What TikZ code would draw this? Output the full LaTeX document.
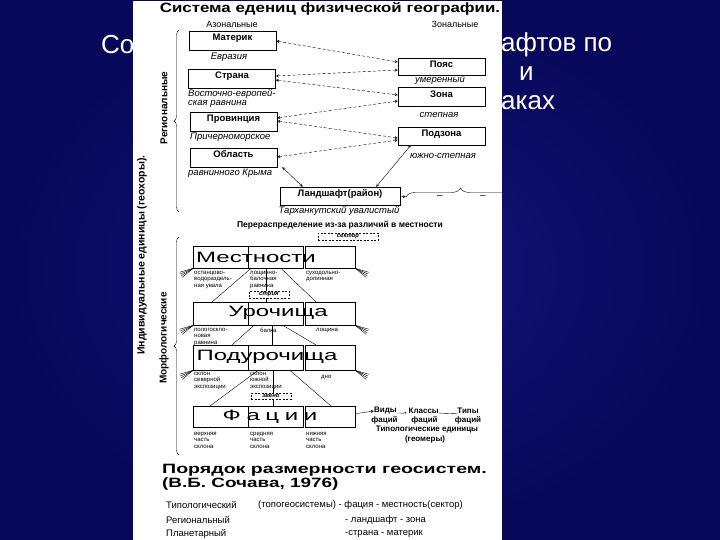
\documentclass[tikz,border=0pt]{standalone}
\usepackage{fontspec}
\setmainfont{Liberation Sans}
\usetikzlibrary{shapes,arrows,positioning,fit,decorations.pathreplacing}

\definecolor{slidenavy}{RGB}{20,20,124}
\definecolor{slidedeep}{RGB}{8,8,90}

\begin{document}
\begin{tikzpicture}[
    x=1pt, y=-1pt,
    box/.style={rectangle, draw, minimum width=87pt, minimum height=19pt, inner sep=1pt, text height=7pt, text depth=6pt, font=\fontsize{9.5}{10}\selectfont\bfseries},
    note/.style={inner sep=0pt, align=left, font=\fontsize{9.5}{9}\selectfont\itshape},
    cell/.style={rectangle, draw, anchor=north west, inner sep=0pt},
    big/.style={inner sep=0pt, font=\fontsize{15}{15}\selectfont},
    tiny/.style={anchor=north west, inner sep=0pt, align=left, font=\fontsize{6}{6.5}\selectfont},
    dashbox/.style={rectangle, draw, fill=white, dash pattern=on 2pt off 1.5pt, minimum width=40pt, minimum height=7pt, inner sep=0pt, font=\fontsize{6}{6}\selectfont\bfseries\itshape},
    side/.style={rotate=90, inner sep=0pt, font=\fontsize{10}{10}\selectfont\bfseries},
    lbl/.style={inner sep=0pt, font=\fontsize{8}{9}\selectfont\bfseries},
    row/.style={anchor=west, inner sep=0pt, font=\fontsize{9.5}{10}\selectfont},
    title/.style={anchor=west, inner sep=0pt, text=white, font=\fontsize{26}{26}\selectfont},
    link/.style={<->, >=stealth, dash pattern=on 3pt off 2pt, thin},
    arrow/.style={<->, >=stealth, thin},
    curly/.style={decorate, decoration={brace, amplitude=#1}, thin},
    fan/.style={thin}
]
\useasboundingbox (0,0) rectangle (720,540);
\shade[inner color=slidenavy, outer color=slidedeep] (0,0) rectangle (720,540);

% slide title behind the scan
\node[title] (ttlA) at (101,45) {Со};
\node[title] (ttlB) at (501,45) {афтов по};
\node[title] (ttlC) at (519,74) {и};
\node[title] (ttlD) at (501,103) {аках};

\fill[white] (133,1) rectangle (502,540);

\begin{scope}
\clip (133,1) rectangle (502,540);

\node[inner sep=0pt, font=\fontsize{13.5}{14}\selectfont\bfseries] (head) at (330,9) {\scalebox{1.25}[1]{Система едениц физической географии.}};
\node[inner sep=0pt, font=\fontsize{9}{9}\selectfont] (azonal) at (232,24) {Азональные};
\node[inner sep=0pt, font=\fontsize{9}{9}\selectfont] (zonal) at (455,24) {Зональные};

% regional units
\node[box] (materik) at (232.5,40.5) {Материк};
\node[box] (strana) at (232,78.5) {Страна};
\node[box] (provincia) at (233.5,121.5) {Провинция};
\node[box] (oblast) at (233.5,157.5) {Область};
\node[box, minimum height=17pt] (poyas) at (441.5,67) {Пояс};
\node[box] (zona) at (441.5,97) {Зона};
\node[box, minimum height=18pt] (podzona) at (441.5,136) {Подзона};
\node[box, minimum width=120pt, minimum height=18pt] (landshaft) at (340,196) {Ландшафт(район)};

\node[note] (evraziya) at (229,57) {Евразия};
\node[note, anchor=west] (vostochno) at (188,98.5) {Восточно-европей-\\ская равнина};
\node[note] (umeren) at (440,80) {умеренный};
\node[note] (stepnaya) at (439,115) {степная};
\node[note, anchor=west] (prichern) at (190,137) {Причерноморское};
\node[note] (yuzhno) at (443,156) {южно-степная};
\node[note, anchor=west] (ravnin) at (188,173) {равнинного Крыма};
\node[note] (tarkhan) at (339,211) {Тарханкутский увалистый};

\draw[link] ([yshift=-0.5pt]materik.east) -- ([yshift=5pt]poyas.west);
\draw[link] ([yshift=2.5pt]strana.east) -- ([yshift=-3pt]poyas.west);
\draw[link] ([yshift=-1.5pt]strana.east) -- ([yshift=2pt]zona.west);
\draw[link] ([yshift=3.5pt]provincia.east) -- ([yshift=-4pt]zona.west);
\draw[link] ([yshift=0.5pt]provincia.east) -- ([yshift=-2pt]podzona.west);
\draw[link] ([yshift=0.5pt]oblast.east) -- ([yshift=-4pt]podzona.west);
\draw[arrow] ([xshift=5pt]oblast.south east) -- ([xshift=23pt]landshaft.north west);
\draw[arrow] ([xshift=13pt]podzona.south west) -- ([xshift=-24pt]landshaft.north east);

\coordinate (brL) at (406,197);
\coordinate (brR) at (515,197);
\draw[->, >=stealth, thin] (landshaft.east) -- (brL);
\draw[curly=9pt] (brL) -- (brR);
\node[inner sep=0pt, font=\fontsize{10}{10}\selectfont] (dashA) at (440,197) {–};
\node[inner sep=0pt, font=\fontsize{10}{10}\selectfont] (dashB) at (483,197) {–};

% left side
\draw[curly=5pt] (179,212) -- (179,30);
\draw[curly=5pt] (179,455) -- (179,237);
\node[side] (regional) at (164,108) {Региональные};
\node[side, font=\fontsize{10.5}{10.5}\selectfont\bfseries] (individ) at (142,255) {Индивидуальные единицы (геохоры).};
\node[side] (morfolog) at (164,338) {Морфологические};

\node[lbl, font=\fontsize{8.5}{9}\selectfont\bfseries] (pereras) at (340,225) {Перераспределение из-за различий в местности};
\node[dashbox, minimum width=60pt] (sektor) at (348,236.5) {сектор};

% morphological units
\node[cell, minimum width=55pt, minimum height=22pt] (mest1) at (193,246) {};
\node[cell, minimum width=55pt, minimum height=22pt] (mest2) at (248,246) {};
\node[cell, minimum width=50pt, minimum height=22pt] (mest3) at (305,246) {};
\node[big] (mestlbl) at (256,257) {\scalebox{1.6}[1]{Местности}};

\node[cell, minimum width=55pt, minimum height=23pt] (uro1) at (193,302) {};
\node[cell, minimum width=55pt, minimum height=23pt] (uro2) at (248,302) {};
\node[cell, minimum width=50pt, minimum height=23pt] (uro3) at (305,302) {};
\node[big] (urolbl) at (278,313) {\scalebox{1.6}[1]{Урочища}};

\node[cell, minimum width=55pt, minimum height=25pt] (pod1) at (193,345) {};
\node[cell, minimum width=55pt, minimum height=25pt] (pod2) at (248,345) {};
\node[cell, minimum width=50pt, minimum height=25pt] (pod3) at (305,345) {};
\node[big] (podlbl) at (267,357) {\scalebox{1.6}[1]{Подурочища}};

\node[cell, minimum width=55pt, minimum height=21pt] (fac1) at (193,406) {};
\node[cell, minimum width=55pt, minimum height=21pt] (fac2) at (248,406) {};
\node[cell, minimum width=50pt, minimum height=21pt] (fac3) at (305,406) {};
\node[big] (faclbl) at (270,417) {\scalebox{1.6}[1]{Ф\hspace{3.5pt}а\hspace{3.5pt}ц\hspace{3.5pt}и\hspace{3.5pt}и}};

\node[tiny] (mestA) at (194,271) {останцово-\\водораздель-\\ная увала};
\node[tiny] (mestB) at (250,271) {лощинно-\\балочная\\равнина};
\node[tiny] (mestC) at (306,271) {суходольно-\\долинная};
\node[tiny] (uroA) at (194,328) {пологоскло-\\новая\\равнина};
\node[tiny] (uroB) at (260,328) {балка};
\node[tiny] (uroC) at (316,328) {лощина};
\node[tiny] (podA) at (194,372) {склон\\северной\\экспозиции};
\node[tiny] (podB) at (250,372) {склон\\южной\\экспозиции};
\node[tiny] (podC) at (321,375) {дно};
\node[tiny] (facA) at (194,432) {верхняя\\часть\\склона};
\node[tiny] (facB) at (250,432) {средняя\\часть\\склона};
\node[tiny] (facC) at (306,432) {нижняя\\часть\\склона};

\draw ([xshift=3pt]mest2.south west) -- ([xshift=19pt]uro1.north west);
\draw ([xshift=18pt]mest2.south west) -- ([xshift=18pt]uro2.north west);
\draw ([xshift=33pt]mest2.south west) -- ([xshift=11pt]uro3.north west);
\draw ([xshift=6pt]uro2.south west) -- ([xshift=39pt]pod1.north west);
\draw ([xshift=24pt]uro2.south west) -- ([xshift=24pt]pod2.north west);
\draw ([xshift=35pt]uro2.south west) -- ([xshift=11pt]pod3.north west);
\draw ([xshift=10pt]pod2.south west) -- ([xshift=17pt]fac1.north west);
\draw ([xshift=25pt]pod2.south west) -- ([xshift=25pt]fac2.north west);
\draw ([xshift=42pt]pod2.south west) -- ([xshift=26pt]fac3.north west);

\node[dashbox] (striya) at (269,294.5) {стрия};
\node[dashbox, minimum height=6pt] (zveno) at (271,396) {звено};

\foreach \a in {140,148,156,164} {
  \draw[fan] (mest1.south west) -- ++(\a:14);
  \draw[fan] (uro1.south west) -- ++(\a:14);
  \draw[fan] (pod1.south west) -- ++(\a:14);
}
\foreach \a in {16,24,32,40} {
  \draw[fan] (mest3.south east) -- ++(\a:14);
  \draw[fan] (uro3.south east) -- ++(\a:14);
  \draw[fan] (pod3.south east) -- ++(\a:14);
}

% typological units
\node[lbl] (vidy) at (385.5,411) {Виды};
\node[lbl] (klassy) at (421.5,411) {, Классы};
\node[lbl] (tipy) at (468,411) {Типы};
\draw (vidy.base east) -- (klassy.base west);
\draw (klassy.base east) -- (tipy.base west);
\node[lbl] (faciyA) at (384.5,420) {фаций};
\node[lbl] (faciyB) at (424.5,420) {фаций};
\node[lbl] (faciyC) at (468,420) {фаций};
\node[lbl] (tipolog) at (427,430) {Типологические единицы};
\node[lbl] (geomery) at (425,439) {(геомеры)};
\draw[->, >=stealth, thin] ([yshift=3pt]fac3.east) -- (vidy.west);

% Sochava
\node[anchor=west, inner sep=0pt, font=\fontsize{13.5}{14}\selectfont\bfseries] (poryadok) at (162,470) {\scalebox{1.45}[1]{Порядок размерности геосистем.}};
\node[anchor=west, inner sep=0pt, font=\fontsize{13.5}{14}\selectfont\bfseries] (sochava) at (162,484) {\scalebox{1.4}[1]{(В.Б. Сочава, 1976)}};
\node[row] (tipol) at (166,505) {Типологический};
\node[row] (tipolR) at (258,505) {(топогеосистемы) - фация - местность(сектор)};
\node[row] (region) at (166,520) {Региональный};
\node[row] (regionR) at (345,520) {- ландшафт - зона};
\node[row] (planet) at (166,534) {Планетарный};
\node[row] (planetR) at (345,534) {-страна - материк};
\end{scope}
\end{tikzpicture}
\end{document}
